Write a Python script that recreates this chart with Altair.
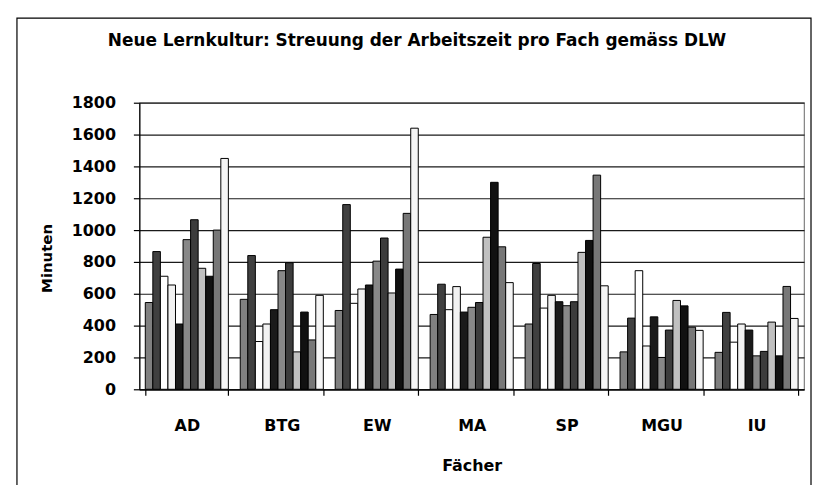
import altair as alt
import pandas as pd

categories = ["AD", "BTG", "EW", "MA", "SP", "MGU", "IU"]
series = ["S1", "S2", "S3", "S4", "S5", "S6", "S7", "S8", "S9", "S10", "S11"]
ad = [545, 865, 710, 655, 410, 940, 1065, 760, 710, 1000, 1450]
btg = [565, 840, 300, 410, 500, 745, 795, 235, 485, 310, 590]
ew = [495, 1160, 540, 630, 655, 805, 950, 605, 755, 1105, 1640]
ma = [470, 660, 500, 645, 485, 515, 545, 955, 1300, 895, 670]
sp = [410, 790, 510, 590, 550, 525, 550, 860, 935, 1345, 650]
mgu = [235, 447, 745, 272, 455, 200, 372, 558, 524, 390, 370]
iu = [232, 483, 296, 410, 372, 210, 238, 422, 210, 646, 445]
colors = ["#808080", "#404040", "#ffffff", "#f2f2f2", "#1a1a1a", "#888888",
          "#3c3c3c", "#c0c0c0", "#111111", "#777777", "#f5f5f5"]
y_ticks = [0, 200, 400, 600, 800, 1000, 1200, 1400, 1600, 1800]

rows = []
for cat, vals in zip(categories, [ad, btg, ew, ma, sp, mgu, iu]):
    for s, v in zip(series, vals):
        rows.append({"cat": cat, "s": s, "v": v})
df = pd.DataFrame(rows)

FONT = "DejaVu Sans"

bars = alt.Chart(df).mark_bar(stroke="#000000", strokeWidth=1).encode(
    x=alt.X("cat:N", sort=categories,
            scale=alt.Scale(paddingInner=0.125, paddingOuter=0.0625),
            axis=alt.Axis(title="Fächer", labelAngle=0, tickBand="extent",
                          domainColor="#000000", tickColor="#000000",
                          tickSize=6, labelPadding=22,
                          labelFont=FONT, labelFontSize=16, labelFontWeight="bold",
                          labelColor="#000000",
                          titleFont=FONT, titleFontSize=16, titleFontWeight="bold",
                          titleColor="#000000", titleY=77, titleBaseline="middle")),
    xOffset=alt.XOffset("s:N", sort=series,
                        scale=alt.Scale(paddingInner=0, paddingOuter=0)),
    y=alt.Y("v:Q", scale=alt.Scale(domain=[0, 1800], nice=False),
            axis=alt.Axis(title="Minuten", values=y_ticks, format="d",
                          grid=True, gridColor="#1a1a1a", gridWidth=1.2,
                          domainColor="#000000", tickColor="#000000",
                          tickSize=6, labelPadding=18,
                          labelFont=FONT, labelFontSize=16, labelFontWeight="bold",
                          labelColor="#000000",
                          titleFont=FONT, titleFontSize=15, titleFontWeight="bold",
                          titleColor="#000000", titleX=-93, titleY=156,
                          titleBaseline="middle")),
    color=alt.Color("s:N", sort=series,
                    scale=alt.Scale(domain=series, range=colors), legend=None),
)

frame = alt.Chart(alt.Data(values=[{}])).mark_rect(
    filled=False, stroke="#000000", strokeWidth=1.2, clip=False
).encode(
    x=alt.value(-123), x2=alt.value(675), y=alt.value(-85), y2=alt.value(388)
)

chart = alt.layer(bars, frame).properties(
    width=668, height=288,
    autosize="none",
    padding={"left": 132, "top": 94, "right": 8, "bottom": 95},
    title=alt.TitleParams(
        "Neue Lernkultur: Streuung der Arbeitszeit pro Fach gemäss DLW",
        font=FONT, fontSize=17, fontWeight="bold", color="#000000",
        anchor="middle", dx=-55, offset=0, dy=33),
).configure_view(stroke="#808080", strokeWidth=1.2).configure_axis(
    domainWidth=1.2, tickWidth=1.2
)

chart.save("out.html", embed_options={"renderer": "svg", "actions": False})
